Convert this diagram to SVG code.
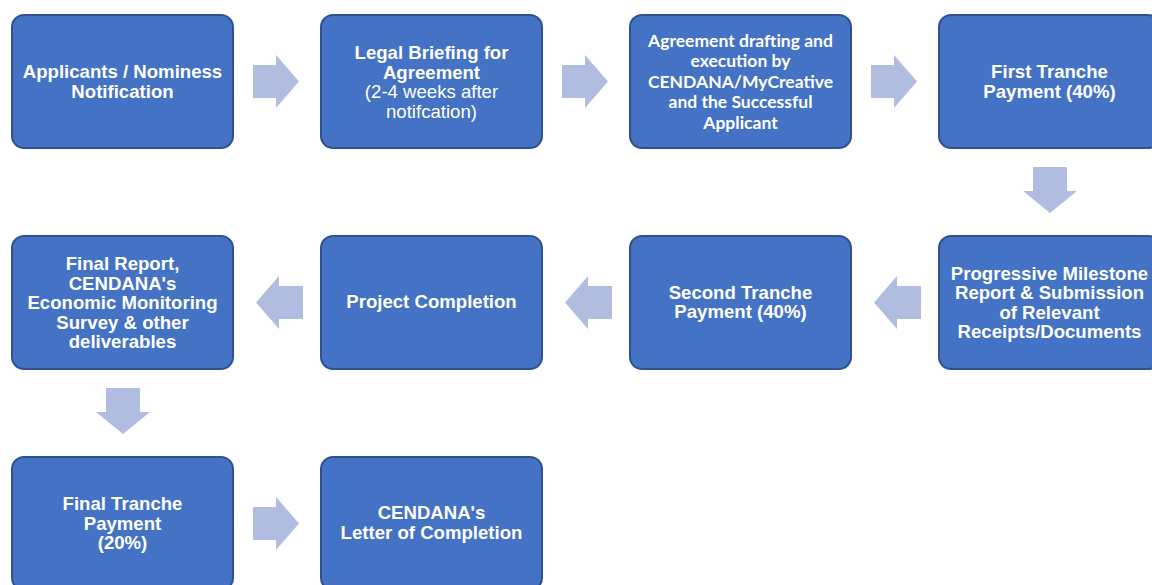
<svg xmlns="http://www.w3.org/2000/svg" width="1152" height="585" viewBox="0 0 1152 585">
  <defs>
    <style>
      .box { fill: #4472C4; stroke: #2F528F; stroke-width: 2; }
      .arrow { fill: #B0BDE0; }
      .lbl { font-family: "Liberation Sans", Arial, sans-serif; font-size: 18.6px; font-weight: bold; fill: #FFFFFF; text-anchor: middle; }
      .plain { font-weight: normal; }
      .cal { font-family: Lato, "Open Sans", sans-serif; font-size: 17.5px; font-weight: bold; fill: #FFFFFF; text-anchor: middle; }
    </style>
    <!-- block arrows, drawn at the origin and placed with transforms -->
    <polygon id="arrowRight" points="0,10 23,10 23,0 46,26.5 23,53 23,43 0,43"/>
    <polygon id="arrowLeft" points="47,10 23,10 23,0 0,26.5 23,53 23,43 47,43"/>
    <polygon id="arrowDown" points="10,0 44,0 44,24 54,24 27,46 0,24 10,24"/>
  </defs>

  <rect width="1152" height="585" fill="#FFFFFF"/>

  <!-- Row 1 -->
  <g id="node-notification">
    <rect class="box" x="12" y="15" width="221" height="133" rx="12"/>
    <text class="lbl" x="122.5" y="78">Applicants / Nominess<tspan x="122.5" dy="19.5">Notification</tspan></text>
  </g>
  <g id="node-legal-briefing">
    <rect class="box" x="321" y="15" width="221" height="133" rx="12"/>
    <text class="lbl" x="431.5" y="59">Legal Briefing for<tspan x="431.5" dy="19.5">Agreement</tspan><tspan class="plain" x="431.5" dy="19.5">(2-4 weeks after</tspan><tspan class="plain" x="431.5" dy="19.5">notifcation)</tspan></text>
  </g>
  <g id="node-agreement">
    <rect class="box" x="630" y="15" width="221" height="133" rx="12"/>
    <text class="cal" x="740.5" y="46.5">Agreement drafting and<tspan x="740.5" dy="20.5">execution by</tspan><tspan x="740.5" dy="20.5">CENDANA/MyCreative</tspan><tspan x="740.5" dy="20.5">and the Successful</tspan><tspan x="740.5" dy="20.5">Applicant</tspan></text>
  </g>
  <g id="node-first-tranche">
    <rect class="box" x="939" y="15" width="221" height="133" rx="12"/>
    <text class="lbl" x="1049.5" y="78">First Tranche<tspan x="1049.5" dy="19.5">Payment (40%)</tspan></text>
  </g>

  <!-- Row 2 -->
  <g id="node-final-report">
    <rect class="box" x="12" y="236" width="221" height="133" rx="12"/>
    <text class="lbl" x="122.5" y="270">Final Report,<tspan x="122.5" dy="19.5">CENDANA's</tspan><tspan x="122.5" dy="19.5">Economic Monitoring</tspan><tspan x="122.5" dy="19.5">Survey &amp; other</tspan><tspan x="122.5" dy="19.5">deliverables</tspan></text>
  </g>
  <g id="node-project-completion">
    <rect class="box" x="321" y="236" width="221" height="133" rx="12"/>
    <text class="lbl" x="431.5" y="308">Project Completion</text>
  </g>
  <g id="node-second-tranche">
    <rect class="box" x="630" y="236" width="221" height="133" rx="12"/>
    <text class="lbl" x="740.5" y="298.5">Second Tranche<tspan x="740.5" dy="19.5">Payment (40%)</tspan></text>
  </g>
  <g id="node-milestone-report">
    <rect class="box" x="939" y="236" width="221" height="133" rx="12"/>
    <text class="lbl" x="1049.5" y="279.5">Progressive Milestone<tspan x="1049.5" dy="19.5">Report &amp; Submission</tspan><tspan x="1049.5" dy="19.5">of Relevant</tspan><tspan x="1049.5" dy="19.5">Receipts/Documents</tspan></text>
  </g>

  <!-- Row 3 -->
  <g id="node-final-tranche">
    <rect class="box" x="12" y="457" width="221" height="133" rx="12"/>
    <text class="lbl" x="122.5" y="510">Final Tranche<tspan x="122.5" dy="19.5">Payment</tspan><tspan x="122.5" dy="19.5">(20%)</tspan></text>
  </g>
  <g id="node-letter-of-completion">
    <rect class="box" x="321" y="457" width="221" height="133" rx="12"/>
    <text class="lbl" x="431.5" y="519">CENDANA's<tspan x="431.5" dy="19.5">Letter of Completion</tspan></text>
  </g>

  <!-- Connectors -->
  <g id="connectors" class="arrow">
    <use href="#arrowRight" x="253" y="55"/>
    <use href="#arrowRight" x="562" y="55"/>
    <use href="#arrowRight" x="871" y="55"/>
    <use href="#arrowDown" x="1023" y="167"/>
    <use href="#arrowLeft" x="874" y="276"/>
    <use href="#arrowLeft" x="565" y="276"/>
    <use href="#arrowLeft" x="256" y="276"/>
    <use href="#arrowDown" x="96" y="388"/>
    <use href="#arrowRight" x="253" y="497"/>
  </g>
</svg>
